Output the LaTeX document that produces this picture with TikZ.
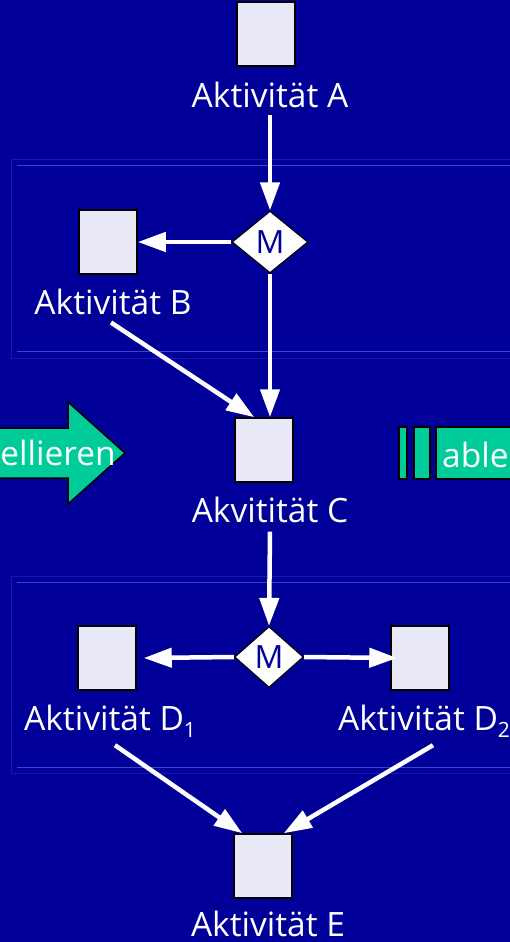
\documentclass[tikz,border=0pt]{standalone}
\usepackage{fontspec}
\setmainfont{Open Sans}
\usetikzlibrary{shapes.geometric,arrows.meta}
\definecolor{bg}{HTML}{000099}
\definecolor{frameouter}{HTML}{1818AE}
\definecolor{frameinner}{HTML}{3448CC}
\definecolor{boxfill}{HTML}{E8E8F6}
\definecolor{grn}{HTML}{00CC99}
\tikzset{
  actbox/.style={draw=black, line width=1.5pt, fill=boxfill, minimum width=58pt, minimum height=64pt, inner sep=0pt},
  merge/.style={diamond, draw=black, line width=1.2pt, fill=white, inner sep=0pt, text=bg, font=\fontsize{32}{32}\selectfont},
  lbl/.style={text=white, inner sep=0pt, font=\fontsize{33.5}{34}\selectfont},
  conn/.style={draw=white, line width=4.5pt, -{Triangle[length=28pt,width=19pt]}},
  greenbox/.style={fill=grn, draw=black, line width=1.5pt},
}
\newcommand{\subidx}[1]{\raisebox{-7pt}{\fontsize{21}{21}\selectfont #1}}
\begin{document}
\begin{tikzpicture}[x=1pt,y=-1pt]
\useasboundingbox (0,0) rectangle (510,942);
\clip (0,0) rectangle (510,942);
\fill[bg] (0,0) rectangle (510,942);
% frames
\draw[frameouter, line width=1pt] (11,159) rectangle (530,358);
\draw[frameinner, line width=1pt] (17,165) -- (530,165) (17,351) -- (530,351);
\draw[frameouter, line width=1pt] (11,576) rectangle (530,773);
\draw[frameinner, line width=1pt] (17,582) -- (530,582) (17,767) -- (530,767);
% green arrow and bars
\draw[greenbox] (-5,428) -- (68,428) -- (68,402) -- (125,453) -- (68,504) -- (68,478) -- (-5,478) -- cycle;
\node[lbl, anchor=base east] (tl) at (116,465) {ellieren};
\draw[greenbox] (399,427) rectangle (407,479);
\draw[greenbox] (414,427) rectangle (430,479);
\draw[greenbox] (436,427) rectangle (530,479);
\node[lbl, anchor=base west] (tr) at (442,467) {able};
% activities
\node[actbox] (A) at (266,34) {};
\node[lbl, anchor=base] (lA) at (270,107) {Aktivität A};
\node[merge, minimum width=76pt, minimum height=62pt] (M1) at (270,242) {M};
\node[actbox] (B) at (108,242) {};
\node[lbl, anchor=base] (lB) at (113,314) {Aktivität B};
\node[actbox] (C) at (264,450) {};
\node[lbl, anchor=base] (lC) at (270,522) {Akvitität C};
\node[merge, minimum width=69pt, minimum height=61pt] (M2) at (269,657) {M};
\node[actbox] (D1) at (107,658) {};
\node[lbl, anchor=base west] (lD1) at (24,730) {Aktivität D\subidx{1}};
\node[actbox] (D2) at (420,658) {};
\node[lbl, anchor=base west] (lD2) at (338,730) {Aktivität D\subidx{2}};
\node[actbox] (E) at (263,866) {};
\node[lbl, anchor=base] (lE) at (268,936) {Aktivität E};
% connectors
\draw[conn] ([yshift=-7pt]lA.south) -- (M1.north);
\draw[conn] (M1.west) -- (B.east);
\draw[conn] (M1.south) -- (M1.south |- C.north);
\draw[conn] ([xshift=-2pt,yshift=-8pt]lB.south) -- ([xshift=20pt]C.north west);
\draw[conn] ([yshift=-9pt]lC.south) -- (M2.north);
\draw[conn] (M2.west) -- ([xshift=7pt]D1.east);
\draw[conn] (M2.east) -- ([xshift=7pt]D2.west);
\draw[conn] ([yshift=-8pt]lD1.south -| 115,0) -- ([xshift=9pt]E.north west);
\draw[conn] ([yshift=-8pt]lD2.south -| 433,0) -- ([xshift=-9pt]E.north east);
\end{tikzpicture}
\end{document}
